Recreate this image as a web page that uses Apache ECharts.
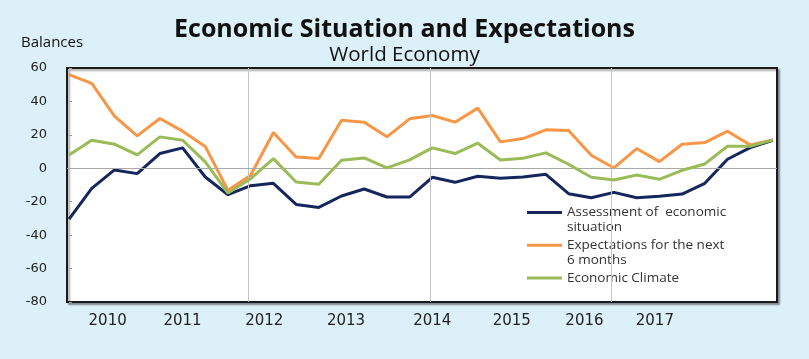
<!DOCTYPE html>
<html>
<head>
<meta charset="utf-8">
<script src="https://cdn.jsdelivr.net/npm/echarts@6/dist/echarts.min.js"></script>
<style>
html,body{margin:0;padding:0;background:#dcf0f9;}
#chart{width:809px;height:359px;}
</style>
</head>
<body>
<div id="chart"></div>
<script>
// Quarterly observations, 2010 Q1 .. 2017 Q4
const quarters = [];
for (let y = 2010; y <= 2017; y++) for (let q = 1; q <= 4; q++) quarters.push(y + ' Q' + q);

const assessment = [-30.4, -12, -1, -3.2, 8.8, 12.2, -5.2, -15.8,
  -10.4, -9, -21.6, -23.4, -16.6, -12.4, -17.2, -17.2,
  -5.4, -8.4, -4.8, -6, -5.2, -3.6, -15.2, -17.6,
  -14.4, -17.6, -16.8, -15.4, -9, 5.4, 12.4, 16.8];
const expectations = [56, 50.8, 31.2, 19.4, 29.8, 22.2, 13, -13.2,
  -4.2, 21.4, 6.8, 5.8, 28.8, 27.6, 18.8, 29.6,
  31.6, 27.6, 36, 15.8, 17.8, 23, 22.6, 7.8,
  0.2, 11.8, 4, 14.4, 15.4, 22.2, 14, 17];
const climate = [8, 16.8, 14.4, 8, 18.8, 16.8, 3.8, -14.8,
  -6.2, 5.8, -8.2, -9.6, 4.8, 6.2, 0.2, 5,
  12.2, 8.8, 15, 5, 6, 9.2, 2.4, -5.4,
  -7, -4, -6.6, -1.2, 2.6, 13.2, 13.2, 17];

const seriesNames = ['Assessment of  economic\nsituation', 'Expectations for the next\n6 months', 'Economic Climate'];
const yearLabels = ['2010', '2011', '2012', '2013', '2014', '2015', '2016', '2017'];
// where each year label sits on the quarter axis (in quarter-index units)
const yearLabelAt = [1.7, 5.0, 8.6, 12.2, 16.0, 19.5, 22.7, 25.8];
// vertical separators (quarter-index units)
const separatorsAt = [7.9, 15.9, 23.9];
const yTicks = {min: -80, max: 60, step: 20};

const toXY = arr => arr.map((v, i) => [i, v]);
const colors = ['#15265c', '#f79646', '#9bbb59'];

const chart = echarts.init(document.getElementById('chart'), null, {renderer: 'canvas'});
chart.setOption({
  backgroundColor: '#dcf0f9',
  animation: false,
  title: [
    {text: 'Economic Situation and Expectations', left: 'center', top: 12,
     textStyle: {fontFamily: 'Open Sans', fontWeight: 'bold', fontSize: 25, color: '#111'}},
    {text: 'World Economy', left: 'center', top: 40,
     textStyle: {fontFamily: 'Open Sans', fontWeight: 'normal', fontSize: 20.5, color: '#111'}},
    {text: 'Balances', left: 16, top: 30,
     textStyle: {fontFamily: 'Open Sans', fontWeight: 'normal', fontSize: 15, color: '#111'}}
  ],
  grid: {left: 67, right: 32, top: 68, bottom: 57, show: true, backgroundColor: '#ffffff',
         borderColor: '#1a1a1a', borderWidth: 2,
         shadowColor: 'rgba(0,0,0,0.35)', shadowBlur: 2, shadowOffsetX: 2, shadowOffsetY: 2},
  legend: {
    orient: 'vertical', left: 527, top: 190, padding: 0,
    itemGap: -12.3, itemWidth: 35, itemHeight: 3, icon: 'rect',
    data: seriesNames,
    formatter: name => '\n' + name + (name.indexOf('\n') < 0 ? '\n' : ''),
    textStyle: {fontFamily: 'Open Sans', fontSize: 13.5, color: '#333', lineHeight: 15}
  },
  xAxis: {
    type: 'value', min: -0.09, max: 31.18,
    axisLine: {show: false}, axisTick: {show: false}, splitLine: {show: false},
    axisLabel: {
      customValues: yearLabelAt, margin: 12,
      fontFamily: 'DejaVu Sans', fontSize: 15, color: '#222',
      formatter: v => {
        let best = 0;
        yearLabelAt.forEach((p, i) => { if (Math.abs(p - v) < Math.abs(yearLabelAt[best] - v)) best = i; });
        return yearLabels[best];
      }
    }
  },
  yAxis: {
    type: 'value', min: yTicks.min, max: yTicks.max, interval: yTicks.step,
    axisLine: {show: false},
    axisTick: {show: true, inside: true, length: 3, lineStyle: {color: '#999'}},
    splitLine: {show: false},
    axisLabel: {margin: 20, fontFamily: 'DejaVu Sans', fontSize: 13, color: '#222'}
  },
  series: [
    {name: seriesNames[0], type: 'line', data: toXY(assessment), symbol: 'none',
     lineStyle: {width: 3, color: colors[0]}, itemStyle: {color: colors[0]}, z: 3,
     markLine: {silent: true, symbol: 'none', label: {show: false},
       lineStyle: {color: '#c4c4c4', width: 1, type: 'solid'},
       data: separatorsAt.map(x => ({xAxis: x})).concat([{yAxis: 0, lineStyle: {color: '#a8a8a8'}}])}},
    {name: seriesNames[1], type: 'line', data: toXY(expectations), symbol: 'none',
     lineStyle: {width: 3, color: colors[1]}, itemStyle: {color: colors[1]}, z: 4},
    {name: seriesNames[2], type: 'line', data: toXY(climate), symbol: 'none',
     lineStyle: {width: 3, color: colors[2]}, itemStyle: {color: colors[2]}, z: 5}
  ]
});
</script>
</body>
</html>
